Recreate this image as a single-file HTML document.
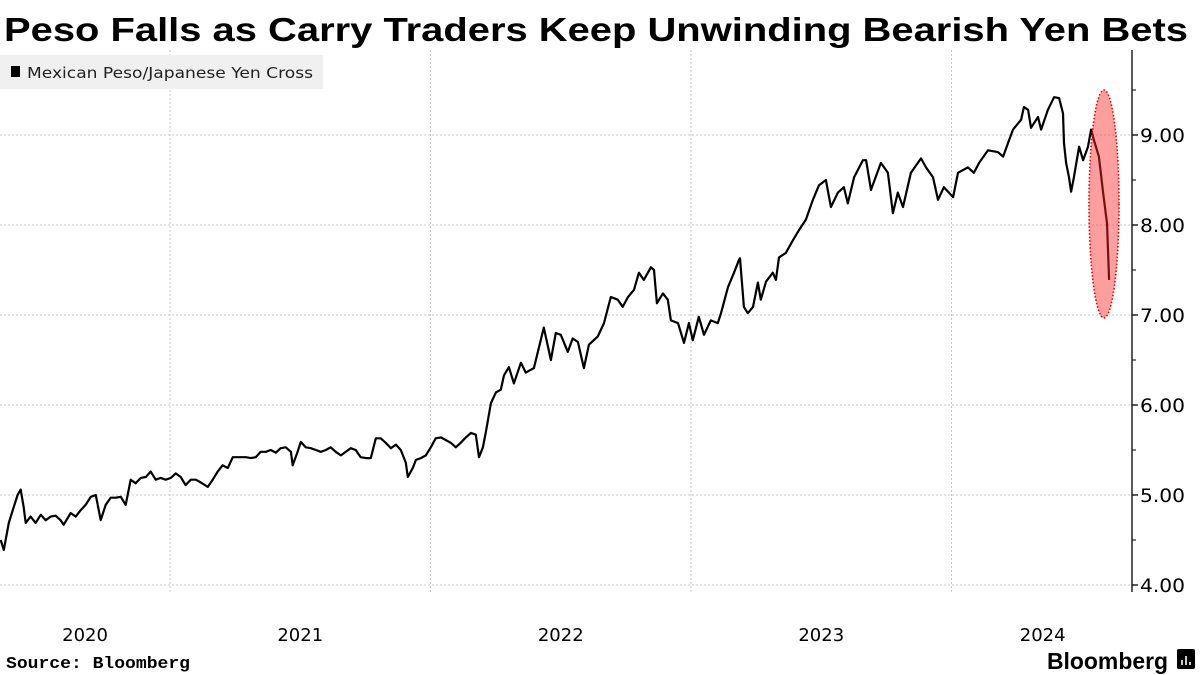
<!DOCTYPE html>
<html><head><meta charset="utf-8"><style>
html,body{margin:0;padding:0;background:#fff;}
svg{display:block;font-family:"Liberation Sans",sans-serif;}
</style></head><body>
<svg id="chart" width="1200" height="675" viewBox="0 0 1200 675">
<text x="4" y="41" font-size="33" font-weight="bold" textLength="1184" lengthAdjust="spacingAndGlyphs">Peso Falls as Carry Traders Keep Unwinding Bearish Yen Bets</text>
<g id="grid"></g>
<g id="axis"></g>
<g id="xaxis"></g>
<path id="line" fill="none" stroke="#000" stroke-width="2.2" stroke-linejoin="round"></path>
<ellipse cx="1104" cy="204" rx="15" ry="114" fill="rgba(255,40,40,0.45)" stroke="#e00" stroke-width="1.6" stroke-dasharray="1.5,2"></ellipse>
<g>
<rect x="0" y="55" width="323" height="34" fill="#f0f0f0"></rect>
<rect x="11" y="66" width="9" height="11" fill="#000"></rect>
<text x="27" y="78" font-size="15" fill="#222" font-family="DejaVu Sans, sans-serif" textLength="286" lengthAdjust="spacingAndGlyphs">Mexican Peso/Japanese Yen Cross</text>
</g>
<text x="6" y="668" font-size="17" font-weight="bold" font-family="Liberation Mono, monospace" textLength="184" lengthAdjust="spacingAndGlyphs">Source: Bloomberg</text>
<text x="1047" y="669" font-size="23" font-weight="bold" textLength="121" lengthAdjust="spacingAndGlyphs">Bloomberg</text>
<rect x="1177" y="649" width="18" height="20" rx="2" fill="#000"></rect>
<path d="M1182 665v-5M1186 665v-9M1190 665v-3" stroke="#fff" stroke-width="1.6"></path>
</svg>
<script>
const dates = [2020.350,2020.362,2020.381,2020.396,2020.415,2020.427,2020.438,2020.446,2020.465,2020.484,2020.504,2020.523,2020.542,2020.561,2020.580,2020.592,2020.619,2020.638,2020.657,2020.676,2020.696,2020.715,2020.734,2020.753,2020.772,2020.792,2020.811,2020.830,2020.849,2020.868,2020.888,2020.907,2020.926,2020.945,2020.964,2020.984,2021.003,2021.022,2021.041,2021.060,2021.080,2021.099,2021.118,2021.145,2021.164,2021.183,2021.202,2021.222,2021.241,2021.260,2021.291,2021.310,2021.329,2021.348,2021.368,2021.387,2021.406,2021.425,2021.444,2021.464,2021.471,2021.490,2021.502,2021.521,2021.540,2021.560,2021.579,2021.598,2021.617,2021.636,2021.656,2021.675,2021.694,2021.713,2021.732,2021.752,2021.771,2021.790,2021.809,2021.828,2021.848,2021.867,2021.886,2021.905,2021.913,2021.932,2021.944,2021.963,2021.982,2022.001,2022.020,2022.040,2022.059,2022.078,2022.097,2022.116,2022.136,2022.155,2022.174,2022.186,2022.201,2022.212,2022.232,2022.251,2022.270,2022.282,2022.301,2022.320,2022.347,2022.366,2022.397,2022.435,2022.462,2022.481,2022.500,2022.527,2022.546,2022.566,2022.589,2022.608,2022.642,2022.666,2022.692,2022.719,2022.738,2022.758,2022.781,2022.800,2022.819,2022.846,2022.858,2022.869,2022.892,2022.911,2022.923,2022.950,2022.973,2022.992,2023.007,2023.030,2023.050,2023.076,2023.103,2023.115,2023.142,2023.165,2023.184,2023.188,2023.203,2023.218,2023.238,2023.257,2023.268,2023.288,2023.314,2023.326,2023.338,2023.364,2023.391,2023.414,2023.441,2023.468,2023.491,2023.518,2023.537,2023.564,2023.587,2023.602,2023.626,2023.660,2023.672,2023.691,2023.729,2023.756,2023.775,2023.794,2023.814,2023.844,2023.883,2023.902,2023.929,2023.948,2023.971,2024.006,2024.025,2024.063,2024.086,2024.106,2024.140,2024.178,2024.198,2024.217,2024.236,2024.267,2024.278,2024.294,2024.305,2024.332,2024.344,2024.370,2024.394,2024.413,2024.428,2024.432,2024.440,2024.451,2024.459,2024.470,2024.490,2024.505,2024.524,2024.536,2024.547,2024.566,2024.582,2024.597,2024.605];
const values = [4.50,4.39,4.69,4.83,5.00,5.06,4.87,4.69,4.76,4.69,4.78,4.72,4.76,4.77,4.72,4.67,4.80,4.76,4.83,4.89,4.98,5.00,4.72,4.89,4.97,4.97,4.98,4.89,5.17,5.13,5.19,5.20,5.26,5.17,5.19,5.17,5.19,5.24,5.20,5.11,5.17,5.17,5.14,5.09,5.17,5.26,5.33,5.30,5.42,5.42,5.42,5.41,5.42,5.48,5.48,5.50,5.47,5.52,5.53,5.48,5.33,5.48,5.59,5.53,5.52,5.50,5.48,5.50,5.53,5.48,5.44,5.48,5.52,5.50,5.42,5.41,5.41,5.63,5.63,5.58,5.52,5.56,5.50,5.36,5.20,5.30,5.39,5.41,5.44,5.53,5.63,5.64,5.61,5.58,5.53,5.58,5.64,5.69,5.67,5.42,5.53,5.69,6.02,6.14,6.17,6.33,6.42,6.24,6.47,6.36,6.41,6.86,6.50,6.80,6.78,6.59,6.74,6.70,6.41,6.67,6.76,6.91,7.20,7.17,7.09,7.20,7.28,7.47,7.39,7.53,7.50,7.13,7.24,7.17,6.94,6.91,6.69,6.91,6.72,6.98,6.78,6.94,6.91,7.02,7.31,7.47,7.61,7.63,7.09,7.02,7.09,7.36,7.17,7.37,7.47,7.39,7.64,7.69,7.83,7.94,8.06,8.28,8.44,8.50,8.20,8.36,8.42,8.24,8.53,8.72,8.72,8.39,8.69,8.58,8.13,8.36,8.20,8.58,8.74,8.64,8.53,8.28,8.42,8.31,8.58,8.64,8.58,8.69,8.83,8.81,8.76,8.91,9.06,9.17,9.31,9.28,9.08,9.20,9.06,9.28,9.42,9.41,9.24,8.91,8.69,8.53,8.37,8.53,8.87,8.72,8.87,9.06,8.94,8.76,8.36,8.02,7.39];
const yTicks = [4,5,6,7,8,9];
const yTickLabels = ["4.00","5.00","6.00","7.00","8.00","9.00"];
const yearBoundaries = [2021,2022,2023,2024];
const yearLabels = ["2020","2021","2022","2023","2024"];
const yearLabelPositions = [2020.674,2021.5,2022.5,2023.5,2024.35];

const NS = "http://www.w3.org/2000/svg";
const xScale = t => 170 + (t - 2021) * 260.5;
const yScale = v => 135 + (9 - v) * 90;
const AX = 1132;
function mk(tag, attrs, parent){ const e=document.createElementNS(NS,tag); for(const k in attrs) e.setAttribute(k,attrs[k]); parent.appendChild(e); return e; }
const grid=document.getElementById('grid'), axis=document.getElementById('axis'), xaxis=document.getElementById('xaxis');
yTicks.forEach((v,i)=>{
  const y=yScale(v);
  const g=mk('line',{x1:0,x2:AX,y1:y,y2:y,stroke:'#c8c8c8','stroke-width':1,'stroke-dasharray':'2,2'},grid);
  
  
  const t=mk('line',{x1:AX,x2:AX+6,y1:y,y2:y,stroke:'#000','stroke-width':1.3},axis);
  
  
  const m=mk('line',{x1:AX,x2:AX+4,y1:yScale(v+0.5),y2:yScale(v+0.5),stroke:'#000','stroke-width':1},axis);
  
  
  const l=mk('text',{x:AX+8,y:y+7,'font-size':19,fill:'#000','font-family':'DejaVu Sans, sans-serif',textLength:45,lengthAdjust:'spacingAndGlyphs'},axis);
  l.textContent=yTickLabels[i];
  
  
});
const al=mk('line',{x1:AX,x2:AX,y1:50,y2:592,stroke:'#000','stroke-width':1.3},axis);


yearBoundaries.forEach(yr=>{
  const x=xScale(yr);
  const g=mk('line',{x1:x,x2:x,y1:50,y2:592,stroke:'#c8c8c8','stroke-width':1,'stroke-dasharray':'2,2'},grid);
  
  
});
yearLabels.forEach((s,i)=>{
  const l=mk('text',{x:xScale(yearLabelPositions[i]),y:641,'font-size':18,'text-anchor':'middle',fill:'#000','font-family':'DejaVu Sans, sans-serif'},xaxis);
  l.textContent=s;
  
  
});
let d='';
dates.forEach((t,i)=>{ d+=(i?'L':'M')+xScale(t).toFixed(1)+' '+yScale(values[i]).toFixed(1); });
document.getElementById('line').setAttribute('d',d);
</script>
</body></html>
